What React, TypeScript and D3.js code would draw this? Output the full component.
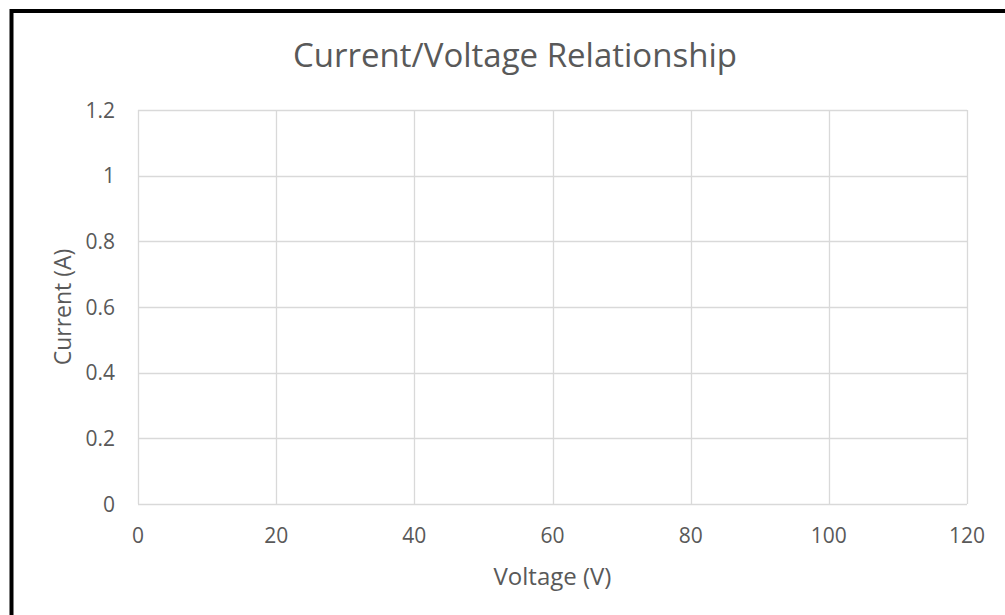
import React, { useRef, useEffect } from 'react';
import * as d3 from 'd3';

// chart has no plotted series, only the empty grid
const voltageTicks = [0, 20, 40, 60, 80, 100, 120];
const currentTicks = [0, 0.2, 0.4, 0.6, 0.8, 1, 1.2];
const titleText = 'Current/Voltage Relationship';
const xLabel = 'Voltage (V)';
const yLabel = 'Current (A)';

const App = () => {
  const width = 1005;
  const height = 615;
  const ref = useRef<SVGSVGElement>(null);

  useEffect(() => {
    const margin = { top: 110, right: 38, bottom: 111, left: 138 };
    const innerWidth = width - margin.left - margin.right;
    const innerHeight = height - margin.top - margin.bottom;
    const font = 'Open Sans, Lato, sans-serif';
    const textColor = '#595959';
    const gridColor = '#d9d9d9';

    const x = d3
      .scaleLinear()
      .domain([voltageTicks[0], voltageTicks[voltageTicks.length - 1]])
      .range([0, innerWidth]);
    const y = d3
      .scaleLinear()
      .domain([currentTicks[0], currentTicks[currentTicks.length - 1]])
      .range([innerHeight, 0]);

    const svg = d3.select(ref.current);
    svg.selectAll('*').remove();

    svg
      .append('rect')
      .attr('width', width)
      .attr('height', height)
      .attr('fill', '#fff');

    // outer chart border: only top and left edges fall inside the image
    svg
      .append('path')
      .attr('d', `M11.5,${height} V11 H${width}`)
      .attr('fill', 'none')
      .attr('stroke', '#000')
      .attr('stroke-width', 4);

    const g = svg
      .append('g')
      .attr('transform', `translate(${margin.left}, ${margin.top})`);

    g.selectAll('line.h')
      .data(currentTicks)
      .enter()
      .append('line')
      .attr('class', 'h')
      .attr('x1', 0)
      .attr('x2', innerWidth)
      .attr('y1', (d) => Math.round(y(d)) + 0.5)
      .attr('y2', (d) => Math.round(y(d)) + 0.5)
      .attr('stroke', gridColor)
      .attr('stroke-width', 1.3);

    g.selectAll('line.v')
      .data(voltageTicks)
      .enter()
      .append('line')
      .attr('class', 'v')
      .attr('y1', 0)
      .attr('y2', innerHeight)
      .attr('x1', (d) => Math.round(x(d)) + 0.5)
      .attr('x2', (d) => Math.round(x(d)) + 0.5)
      .attr('stroke', gridColor)
      .attr('stroke-width', 1.3);

    g.selectAll('text.yt')
      .data(currentTicks)
      .enter()
      .append('text')
      .attr('class', 'yt')
      .attr('x', -23)
      .attr('y', (d) => y(d))
      .attr('dy', '0.36em')
      .attr('text-anchor', 'end')
      .attr('fill', textColor)
      .style('font', `21px ${font}`)
      .text((d) => String(d));

    g.selectAll('text.xt')
      .data(voltageTicks)
      .enter()
      .append('text')
      .attr('class', 'xt')
      .attr('x', (d) => x(d))
      .attr('y', innerHeight + 39)
      .attr('text-anchor', 'middle')
      .attr('fill', textColor)
      .style('font', `21px ${font}`)
      .text((d) => String(d));

    svg
      .append('text')
      .attr('x', 515)
      .attr('y', 67)
      .attr('text-anchor', 'middle')
      .attr('fill', textColor)
      .style('font', `33px ${font}`)
      .text(titleText);

    svg
      .append('text')
      .attr('x', margin.left + innerWidth / 2)
      .attr('y', 585)
      .attr('text-anchor', 'middle')
      .attr('fill', textColor)
      .style('font', `24px ${font}`)
      .text(xLabel);

    svg
      .append('text')
      .attr('transform', `translate(71, ${margin.top + innerHeight / 2}) rotate(-90)`)
      .attr('text-anchor', 'middle')
      .attr('fill', textColor)
      .style('font', `23px ${font}`)
      .text(yLabel);
  }, []);

  return (
    <svg
      ref={ref}
      width={width}
      height={height}
      style={{ position: 'absolute', left: 0, top: 0, display: 'block', overflow: 'hidden' }}
    />
  );
};

export default App;
